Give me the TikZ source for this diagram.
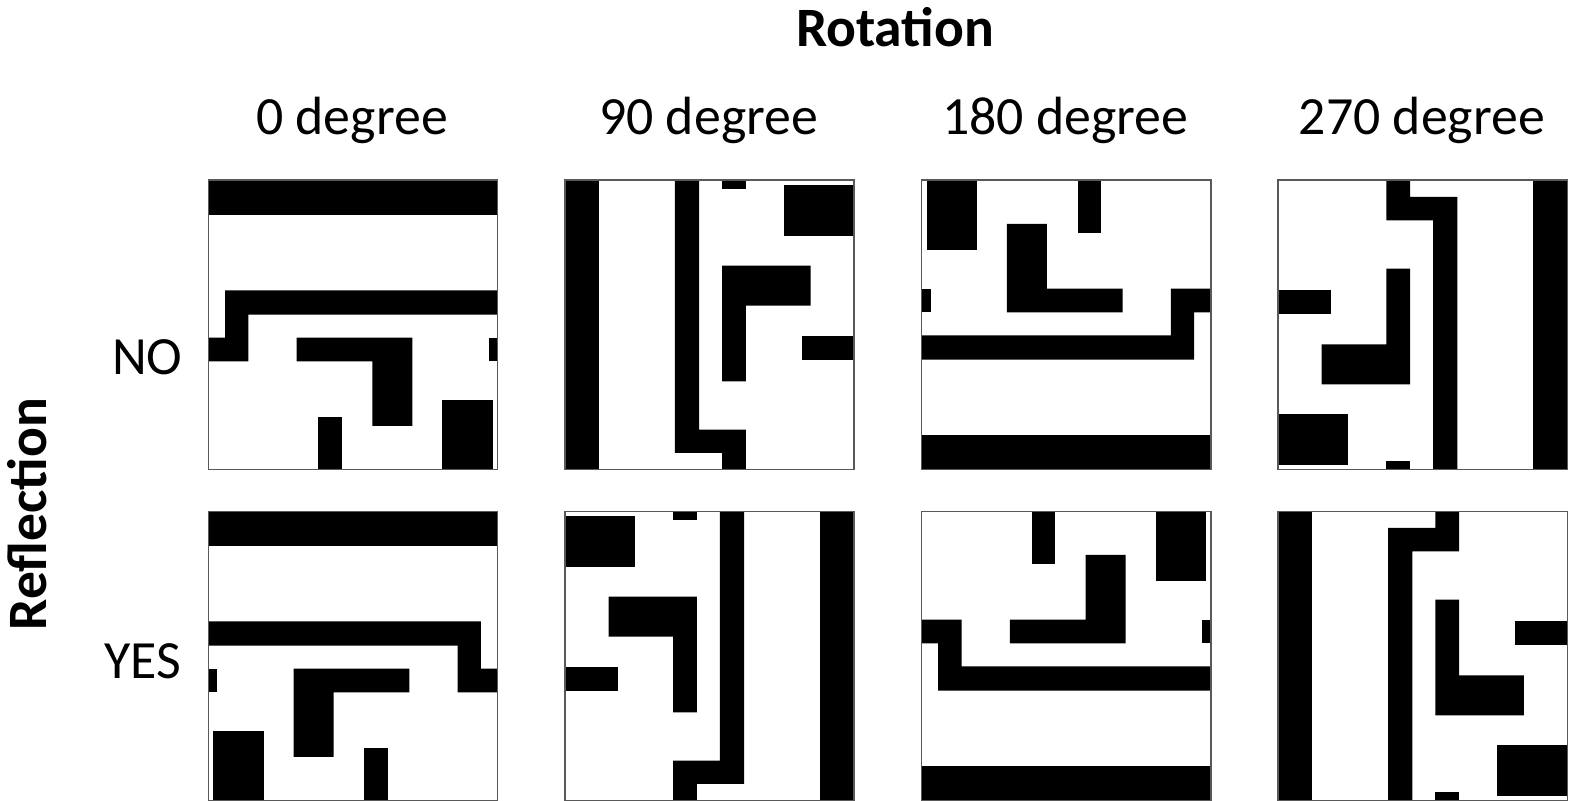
\documentclass[tikz,border=0pt]{standalone}
\usepackage{fontspec}
\setmainfont{Carlito}

% one maze tile, top-left corner at the origin, y pointing down
\newcommand{\mazetile}{%
\fill (0,0) rectangle (289.3,34.3);
\fill (0,157.3) -- (16.7,157.3) -- (16.7,110) -- (289.3,110) -- (289.3,134.3) -- (40,134.3) -- (40,181) -- (0,181) -- cycle;
\fill (280.3,157.3) rectangle (289.3,181);
\fill (88.3,157.3) -- (204,157.3) -- (204,245.7) -- (164,245.7) -- (164,181) -- (88.3,181) -- cycle;
\fill (110,236.7) rectangle (133.3,289.3);
\fill (234,219.3) rectangle (284.3,289.3);
\draw [frame] (0,0) rectangle (289.3,289.3);
}

\begin{document}
\begin{tikzpicture}[x=0.01cm,y=-0.01cm]
\tikzstyle{every node}+=[inner sep=0pt]
\tikzstyle{frame}=[draw=black!65,line width=0.45pt]
\tikzstyle{head}=[font=\fontsize{15.8}{19}\selectfont\bfseries]
\tikzstyle{lab}=[font=\fontsize{15.3}{18}\selectfont]
\useasboundingbox (0,0) rectangle (1573,801);
\draw (895,46.7) node [head,anchor=base] (rot) {Rotation};
\draw (47,514) node [head,rotate=90,anchor=base] (refl) {Reflection};
\draw (183.3,375) node [lab,anchor=base east] (no) {NO};
\draw (182,678.3) node [lab,anchor=base east] (yes) {YES};
% columns: rotation, rows: plain and mirrored
\foreach \ang [count=\c from 0] in {0,90,180,270} {
  \draw (352+356.6*\c,135) node [lab,anchor=base] (deg\ang) {\ang\ degree};
  \foreach \flip/\row in {1/0,-1/1} {
    \begin{scope}[shift={(352.95+356.6*\c,324.95+331*\row)},xscale=\flip,rotate=\ang,shift={(-144.65,-144.65)}]
    \mazetile
    \end{scope}
  }
}
\end{tikzpicture}
\end{document}
